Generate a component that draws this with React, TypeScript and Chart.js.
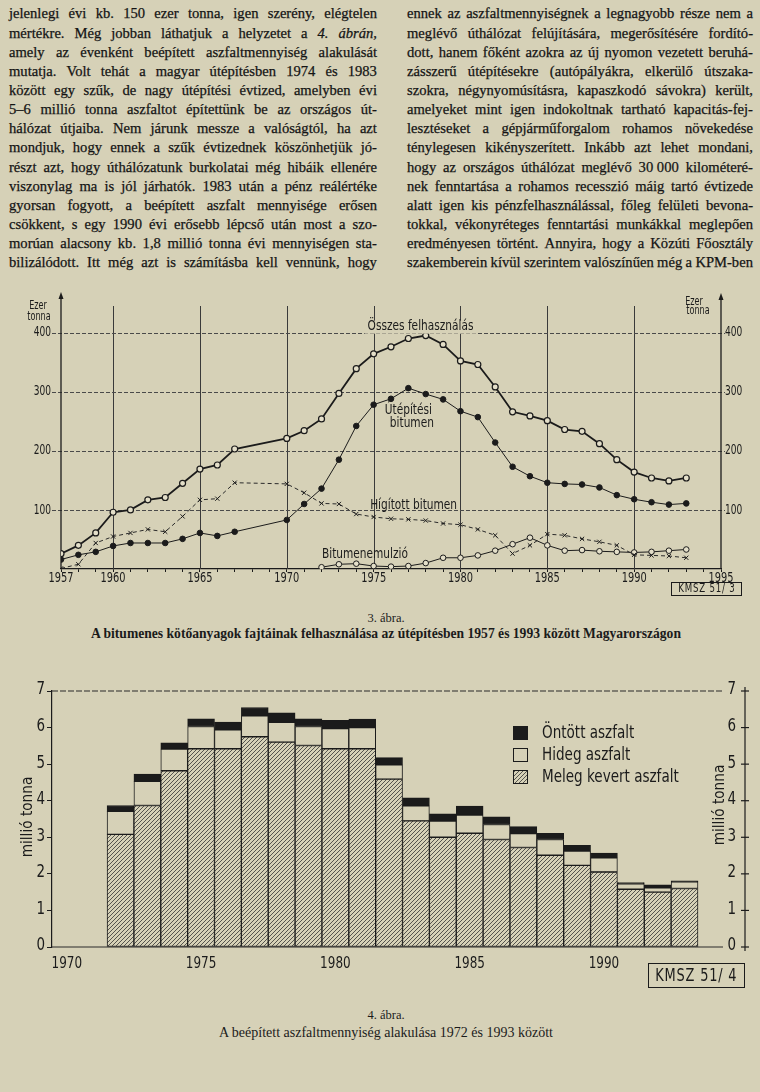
import React, { useEffect, useRef } from "react";
import { Chart, registerables } from "chart.js";
Chart.register(...registerables);

const BG = "#d6d1b7";
const INK = "#1b1b1b";
const NARROW = '"DejaVu Sans Condensed", "DejaVu Sans", sans-serif';
const SERIF = '"Liberation Serif", "DejaVu Serif", serif';

// ---------- body text ----------
const leftLines = [
  "jelenlegi évi kb. 150 ezer tonna, igen szerény, elégtelen",
  "mértékre. Még jobban láthatjuk a helyzetet a _4. ábrán,_",
  "amely az évenként beépített aszfaltmennyiség alakulását",
  "mutatja. Volt tehát a magyar útépítésben 1974 és 1983",
  "között egy szűk, de nagy útépítési évtized, amelyben évi",
  "5–6 millió tonna aszfaltot építettünk be az országos út-",
  "hálózat útjaiba. Nem járunk messze a valóságtól, ha azt",
  "mondjuk, hogy ennek a szűk évtizednek köszönhetjük jó-",
  "részt azt, hogy úthálózatunk burkolatai még hibáik ellenére",
  "viszonylag ma is jól járhatók. 1983 után a pénz reálértéke",
  "gyorsan fogyott, a beépített aszfalt mennyisége erősen",
  "csökkent, s egy 1990 évi erősebb lépcső után most a szo-",
  "morúan alacsony kb. 1,8 millió tonna évi mennyiségen sta-",
  "bilizálódott. Itt még azt is számításba kell vennünk, hogy",
];
const rightLines = [
  "ennek az aszfaltmennyiségnek a legnagyobb része nem a",
  "meglévő úthálózat felújítására, megerősítésére fordító-",
  "dott, hanem főként azokra az új nyomon vezetett beruhá-",
  "zásszerű útépítésekre (autópályákra, elkerülő útszaka-",
  "szokra, négynyomúsításra, kapaszkodó sávokra) került,",
  "amelyeket mint igen indokoltnak tartható kapacitás-fej-",
  "lesztéseket a gépjárműforgalom rohamos növekedése",
  "ténylegesen kikényszerített. Inkább azt lehet mondani,",
  "hogy az országos úthálózat meglévő 30\u00A0000 kilométeré-",
  "nek fenntartása a rohamos recesszió máig tartó évtizede",
  "alatt igen kis pénzfelhasználással, főleg felületi bevona-",
  "tokkal, vékonyréteges fenntartási munkákkal meglepően",
  "eredményesen történt. Annyira, hogy a Közúti Főosztály",
  "szakemberein kívül szerintem valószínűen még a KPM-ben",
];

// ---------- chart 1 data (ezer tonna) ----------
const years1 = [1957, 1958, 1959, 1960, 1961, 1962, 1963, 1964, 1965, 1966, 1967,
  1970, 1971, 1972, 1973, 1974, 1975, 1976, 1977, 1978, 1979, 1980, 1981,
  1982, 1983, 1984, 1985, 1986, 1987, 1988, 1989, 1990, 1991, 1992, 1993];
const osszes = [26, 40, 61, 96, 100, 117, 121, 145, 169, 176, 203,
  221, 234, 254, 297, 339, 364, 376, 390, 395, 380, 352, 346,
  308, 266, 259, 251, 236, 233, 212, 185, 164, 154, 149, 154];
const utepitesi = [16, 24, 29, 39, 44, 44, 44, 51, 61, 56, 63,
  83, 110, 136, 185, 242, 278, 288, 306, 296, 287, 267, 257,
  214, 173, 157, 146, 144, 143, 138, 125, 118, 113, 109, 111];
const higitott = [1, 8, 44, 55, 61, 67, 63, 89, 117, 119, 146,
  144, 129, 111, 110, 93, 88, 85, 84, 82, 77, 75, 67,
  57, 26, 40, 59, 57, 51, 46, 40, 24, 23, 22, 19];
const emulzioYears = [1972, 1973, 1974, 1975, 1976, 1977, 1978, 1979, 1980, 1981, 1982,
  1983, 1984, 1985, 1986, 1987, 1988, 1989, 1990, 1991, 1992, 1993];
const emulzio = [3, 8, 9, 5, 4, 5, 10, 19, 19, 23, 31, 42, 53, 40, 31, 32, 30, 29, 28, 29, 31, 33];
const xLabelYears1 = [1957, 1960, 1965, 1970, 1975, 1980, 1985, 1990, 1995];
const gridYears1 = [1960, 1965, 1970, 1975, 1980, 1985, 1990];
const yTicks1 = [100, 200, 300, 400];

// ---------- chart 2 data (millió tonna) ----------
const years2 = [1972, 1973, 1974, 1975, 1976, 1977, 1978, 1979, 1980, 1981, 1982,
  1983, 1984, 1985, 1986, 1987, 1988, 1989, 1990, 1991, 1992, 1993];
const meleg = [3.08, 3.87, 4.82, 5.42, 5.42, 5.75, 5.6, 5.51, 5.42, 5.42, 4.59,
  3.45, 3.0, 3.11, 2.94, 2.72, 2.51, 2.23, 2.05, 1.58, 1.5, 1.6];
const hideg = [0.63, 0.66, 0.59, 0.61, 0.52, 0.57, 0.54, 0.52, 0.55, 0.58, 0.39,
  0.41, 0.44, 0.5, 0.41, 0.38, 0.43, 0.39, 0.39, 0.15, 0.12, 0.18];
const ontott = [0.16, 0.2, 0.17, 0.21, 0.21, 0.23, 0.26, 0.21, 0.23, 0.23, 0.2,
  0.22, 0.2, 0.24, 0.21, 0.19, 0.17, 0.16, 0.13, 0.03, 0.08, 0.03];
const xLabelYears2 = [1970, 1975, 1980, 1985, 1990];
const yTicks2 = [0, 1, 2, 3, 4, 5, 6, 7];

// condensed text helper for the technical lettering
function ctext(ctx: CanvasRenderingContext2D, text: string, x: number, y: number, size: number,
  align: CanvasTextAlign, sx: number) {
  ctx.save();
  ctx.font = `${size}px ${NARROW}`;
  ctx.textAlign = align;
  ctx.textBaseline = "middle";
  ctx.fillStyle = INK;
  ctx.translate(x, y);
  ctx.scale(sx, 1);
  ctx.fillText(text, 0, 0);
  ctx.restore();
}

function TextColumn({ lines, left, width }: { lines: string[]; left: number; width: number }) {
  return (
    <div style={{
      position: "absolute", left, top: 4.4, width, fontFamily: SERIF, fontSize: 14.6, color: "#141414",
      WebkitTextStroke: "0.25px #141414",
    } as any}>
      {lines.map((line, i) => {
        let italic = false;
        const words = line.split(" ").map((w, j) => {
          let t = w;
          if (t.startsWith("_")) { italic = true; t = t.slice(1); }
          const it = italic;
          if (t.endsWith("_")) { t = t.slice(0, -1); italic = false; }
          return <span key={j} style={{ fontStyle: it ? "italic" : "normal" }}>{t}</span>;
        });
        return (
          <div key={i} style={{ display: "flex", justifyContent: "space-between", height: 19.15, lineHeight: "19.15px", whiteSpace: "nowrap" }}>
            {words}
          </div>
        );
      })}
    </div>
  );
}

function Chart1() {
  const ref = useRef<HTMLCanvasElement>(null);
  useEffect(() => {
    const canvas = ref.current!;
    const pts = (xs: number[], ys: number[]) => xs.map((x, i) => ({ x, y: ys[i] }));
    const allYears = Array.from({ length: 1995 - 1957 + 1 }, (_, i) => 1957 + i);
    const plugin = {
      id: "deco1",
      beforeDatasetsDraw(chart: any) {
        const { ctx, chartArea: a, scales } = chart;
        const x = scales.x, y = scales.y;
        ctx.save();
        ctx.strokeStyle = "#3a3a3a";
        ctx.lineWidth = 1;
        gridYears1.forEach((v) => {
          const px = Math.round(x.getPixelForValue(v)) + 0.5;
          ctx.beginPath(); ctx.moveTo(px, a.bottom); ctx.lineTo(px, a.top); ctx.stroke();
        });
        ctx.setLineDash([4, 2]);
        ctx.strokeStyle = "#4a4a4a";
        yTicks1.forEach((v) => {
          const py = Math.round(y.getPixelForValue(v)) + 0.5;
          ctx.beginPath(); ctx.moveTo(a.left - 9, py); ctx.lineTo(a.right + 4, py); ctx.stroke();
        });
        ctx.setLineDash([]);
        ctx.strokeStyle = INK;
        ctx.fillStyle = INK;
        ctx.lineWidth = 1.3;
        [a.left, a.right].forEach((px: number, i: number) => {
          const top = a.top - (i === 0 ? 14 : 13);
          ctx.beginPath(); ctx.moveTo(px, a.bottom); ctx.lineTo(px, top + 3); ctx.stroke();
          ctx.beginPath(); ctx.moveTo(px - 2.5, top + 7); ctx.lineTo(px, top); ctx.lineTo(px + 2.5, top + 7); ctx.closePath(); ctx.fill();
        });
        // tick labels
        xLabelYears1.forEach((v) => ctext(ctx, String(v), x.getPixelForValue(v), a.bottom + 9.5, 14, "center", 0.78));
        yTicks1.forEach((v) => {
          const py = y.getPixelForValue(v);
          ctext(ctx, String(v), a.left - 10, py, 14, "right", 0.72);
          ctext(ctx, String(v), a.right + 4, py, 14, "left", 0.72);
        });
        // unit labels
        ctext(ctx, "Ezer", a.left - 23, a.top, 12, "center", 0.75);
        ctext(ctx, "tonna", a.left - 22, a.top + 11, 12, "center", 0.75);
        ctext(ctx, "Ezer", a.right - 27, a.top - 4, 12, "center", 0.75);
        ctext(ctx, "tonna", a.right - 23, a.top + 5, 12, "center", 0.75);
        ctx.restore();
      },
      afterDatasetsDraw(chart: any) {
        const { ctx, scales } = chart;
        const x = scales.x, y = scales.y;
        ctx.save();
        const label = (text: string, xv: number, yv: number, mask: boolean) => {
          const px = x.getPixelForValue(xv), py = y.getPixelForValue(yv);
          ctx.font = `14px ${NARROW}`;
          const w = ctx.measureText(text).width * 0.84;
          if (mask) { ctx.fillStyle = BG; ctx.fillRect(px - w / 2 - 3, py - 6, w + 6, 13); }
          ctext(ctx, text, px, py, 14, "center", 0.84);
        };
        label("Összes felhasználás", 1977.7, 410, true);
        label("Útépítési", 1977.0, 269, false);
        label("bitumen", 1977.2, 247, false);
        label("Hígított bitumen", 1977.3, 108, false);
        label("Bitumenemulzió", 1974.5, 25, false);
        ctx.restore();
      },
    };
    const chart = new Chart(canvas, {
      type: "line",
      data: {
        datasets: [
          {
            label: "Összes felhasználás", data: pts(years1, osszes), borderColor: INK, borderWidth: 1.8,
            pointRadius: 3, pointBackgroundColor: "#e4dfc9", pointBorderColor: INK, pointBorderWidth: 1.2,
          },
          {
            label: "Útépítési bitumen", data: pts(years1, utepitesi), borderColor: INK, borderWidth: 1,
            pointRadius: 2.8, pointBackgroundColor: INK, pointBorderColor: INK, pointBorderWidth: 1,
          },
          {
            label: "Hígított bitumen", data: pts(years1, higitott), borderColor: "#2a2a2a", borderWidth: 1,
            borderDash: [4, 3], pointStyle: "crossRot", pointRadius: 3, pointBorderColor: INK, pointBorderWidth: 1,
          },
          {
            label: "Bitumenemulzió", data: pts(emulzioYears, emulzio), borderColor: INK, borderWidth: 1,
            pointRadius: 2.8, pointBackgroundColor: "#e4dfc9", pointBorderColor: INK, pointBorderWidth: 1,
          },
        ],
      } as any,
      options: {
        animation: false,
        responsive: false,
        maintainAspectRatio: false,
        layout: { padding: { top: 26, left: 0, right: 0, bottom: 0 } },
        plugins: { legend: { display: false }, tooltip: { enabled: false } },
        scales: {
          x: {
            type: "linear", min: 1957, max: 1995,
            afterBuildTicks: (s: any) => { s.ticks = allYears.map((v) => ({ value: v })); },
            afterFit: (s: any) => { s.height = 31; },
            ticks: { display: false, autoSkip: false },
            grid: { drawOnChartArea: false, drawTicks: true, tickLength: 3, color: INK },
            border: { display: true, color: INK, width: 1.3 },
          },
          y: {
            min: 0, max: 445,
            afterBuildTicks: (s: any) => { s.ticks = yTicks1.map((v) => ({ value: v })); },
            afterFit: (s: any) => { s.width = 61; },
            ticks: { display: false },
            grid: { display: false },
            border: { display: false },
          },
          y2: {
            position: "right", min: 0, max: 445,
            afterBuildTicks: (s: any) => { s.ticks = yTicks1.map((v) => ({ value: v })); },
            afterFit: (s: any) => { s.width = 39; },
            ticks: { display: false },
            grid: { display: false },
            border: { display: false },
          },
        },
      } as any,
      plugins: [plugin],
    });
    return () => chart.destroy();
  }, []);
  return <canvas ref={ref} width={760} height={320} style={{ position: "absolute", left: 0, top: 280, width: 760, height: 320 }} />;
}

function makeHatch(): CanvasPattern {
  const c = document.createElement("canvas");
  c.width = 4; c.height = 4;
  const g = c.getContext("2d")!;
  g.fillStyle = BG;
  g.fillRect(0, 0, 4, 4);
  g.strokeStyle = "#333333";
  g.lineWidth = 0.8;
  g.beginPath();
  g.moveTo(-1, 5); g.lineTo(5, -1);
  g.moveTo(-1, 1); g.lineTo(1, -1);
  g.moveTo(3, 5); g.lineTo(5, 3);
  g.stroke();
  return g.createPattern(c, "repeat")!;
}

function Chart2() {
  const ref = useRef<HTMLCanvasElement>(null);
  useEffect(() => {
    const canvas = ref.current!;
    const hatch = makeHatch();
    const pts = (xs: number[], ys: number[]) => xs.map((x, i) => ({ x, y: ys[i] }));
    const plugin = {
      id: "deco2",
      beforeDatasetsDraw(chart: any) {
        const { ctx, chartArea: a, scales } = chart;
        const x = scales.x, y = scales.y;
        ctx.save();
        ctx.strokeStyle = "#2a2a2a";
        ctx.lineWidth = 1.2;
        const y7 = y.getPixelForValue(7), y0 = y.getPixelForValue(0);
        ctx.setLineDash([6, 2]);
        ctx.beginPath(); ctx.moveTo(a.left, y7); ctx.lineTo(a.right - 22, y7); ctx.stroke();
        ctx.setLineDash([]);
        ctx.beginPath(); ctx.moveTo(a.left, y0); ctx.lineTo(a.right - 22, y0); ctx.stroke();
        // right axis
        ctx.strokeStyle = INK;
        ctx.beginPath(); ctx.moveTo(a.right, y0 + 4); ctx.lineTo(a.right, y7 - 4); ctx.stroke();
        yTicks2.forEach((v) => {
          const py = y.getPixelForValue(v);
          ctx.beginPath(); ctx.moveTo(a.right - 4, py); ctx.lineTo(a.right + 4, py); ctx.stroke();
          ctext(ctx, String(v), a.right - 9, py - 1, 17, "right", 0.88);
          ctext(ctx, String(v), a.left - 7, py - 1, 17, "right", 0.88);
        });
        xLabelYears2.forEach((v) => ctext(ctx, String(v), x.getPixelForValue(v), a.bottom + 17, 15.5, "center", 0.86));
        // rotated axis titles
        const rot = (text: string, cx: number, cy: number) => {
          ctx.save();
          ctx.translate(cx, cy);
          ctx.rotate(-Math.PI / 2);
          ctext(ctx, text, 0, 0, 16.5, "center", 0.92);
          ctx.restore();
        };
        rot("millió tonna", a.left - 24, (y0 + y7) / 2 - 2);
        rot("millió tonna", a.right - 25, (y0 + y7) / 2 - 14);
        ctx.restore();
      },
      afterDatasetsDraw(chart: any) {
        const { ctx } = chart;
        const ds = chart.data.datasets;
        ctx.save();
        const order = [2, 1, 0];
        order.forEach((di, k) => {
          const cy = 63 + k * 22;
          ctx.fillStyle = ds[di].backgroundColor;
          ctx.fillRect(513, cy - 7, 15, 14);
          ctx.strokeStyle = INK;
          ctx.lineWidth = 1;
          ctx.strokeRect(513.5, cy - 6.5, 14, 13);
          ctext(ctx, ds[di].label, 542, cy, 17.5, "left", 0.86);
        });
        ctx.restore();
      },
    };
    const common = { borderColor: INK, borderWidth: 1, borderSkipped: false, barPercentage: 1, categoryPercentage: 1 };
    const chart = new Chart(canvas, {
      type: "bar",
      data: {
        datasets: [
          { label: "Meleg kevert aszfalt", data: pts(years2, meleg), backgroundColor: hatch, ...common },
          { label: "Hideg aszfalt", data: pts(years2, hideg), backgroundColor: BG, ...common },
          { label: "Öntött aszfalt", data: pts(years2, ontott), backgroundColor: INK, ...common },
        ],
      } as any,
      options: {
        animation: false,
        responsive: false,
        maintainAspectRatio: false,
        layout: { padding: { top: 21, left: 0, right: 15, bottom: 0 } },
        plugins: { legend: { display: false }, tooltip: { enabled: false } },
        scales: {
          x: {
            type: "linear", stacked: true, min: 1969.45, max: 1995.25, offset: false,
            afterBuildTicks: (s: any) => { s.ticks = xLabelYears2.map((v) => ({ value: v })); },
            afterFit: (s: any) => { s.height = 33; },
            ticks: { display: false, autoSkip: false },
            grid: { display: false, offset: false },
            border: { display: false },
          },
          y: {
            stacked: true, min: 0, max: 7,
            afterBuildTicks: (s: any) => { s.ticks = yTicks2.map((v) => ({ value: v })); },
            afterFit: (s: any) => { s.width = 52; },
            ticks: { display: false },
            grid: { display: true, drawOnChartArea: false, drawTicks: true, tickLength: 5, color: INK },
            border: { display: true, color: INK, width: 1.2 },
          },
        },
      } as any,
      plugins: [plugin],
    });
    return () => chart.destroy();
  }, []);
  return <canvas ref={ref} width={760} height={310} style={{ position: "absolute", left: 0, top: 670, width: 760, height: 310 }} />;
}

export default function App() {
  const cap = (top: number, size: number, bold: boolean): React.CSSProperties => ({
    position: "absolute", left: 0, width: 772, top, textAlign: "center", fontFamily: SERIF,
    fontSize: size, lineHeight: "16px", fontWeight: bold ? "bold" : "normal", color: INK, whiteSpace: "nowrap",
  });
  const box = (left: number, top: number, w: number, h: number, size: number): React.CSSProperties => ({
    position: "absolute", left, top, width: w, height: h, boxSizing: "border-box", border: `1.5px solid ${INK}`,
    fontFamily: NARROW, fontSize: size, lineHeight: `${h - 3}px`, color: INK, letterSpacing: 1,
    whiteSpace: "nowrap", display: "flex", justifyContent: "center", overflow: "hidden",
  });
  const squeeze = (sx: number): React.CSSProperties => ({ display: "inline-block", transform: `scaleX(${sx})`, transformOrigin: "center" });
  return (
    <div style={{ position: "absolute", left: 0, top: 0, width: 760, height: 1092, background: BG, overflow: "hidden" }}>
      <TextColumn lines={leftLines} left={9} width={368} />
      <TextColumn lines={rightLines} left={407} width={346} />
      <Chart1 />
      <div style={box(671, 582, 71, 14, 12)}><span style={squeeze(0.8)}>KMSZ 51/ 3</span></div>
      <div style={cap(610, 12.5, false)}>3. ábra.</div>
      <div style={cap(626, 13.6, true)}>A bitumenes kötőanyagok fajtáinak felhasználása az útépítésben 1957 és 1993 között Magyarországon</div>
      <Chart2 />
      <div style={box(648, 963, 97, 25, 18)}><span style={squeeze(0.8)}>KMSZ 51/ 4</span></div>
      <div style={cap(1007, 12.5, false)}>4. ábra.</div>
      <div style={cap(1025, 14, false)}>A beépített aszfaltmennyiség alakulása 1972 és 1993 között</div>
    </div>
  );
}
